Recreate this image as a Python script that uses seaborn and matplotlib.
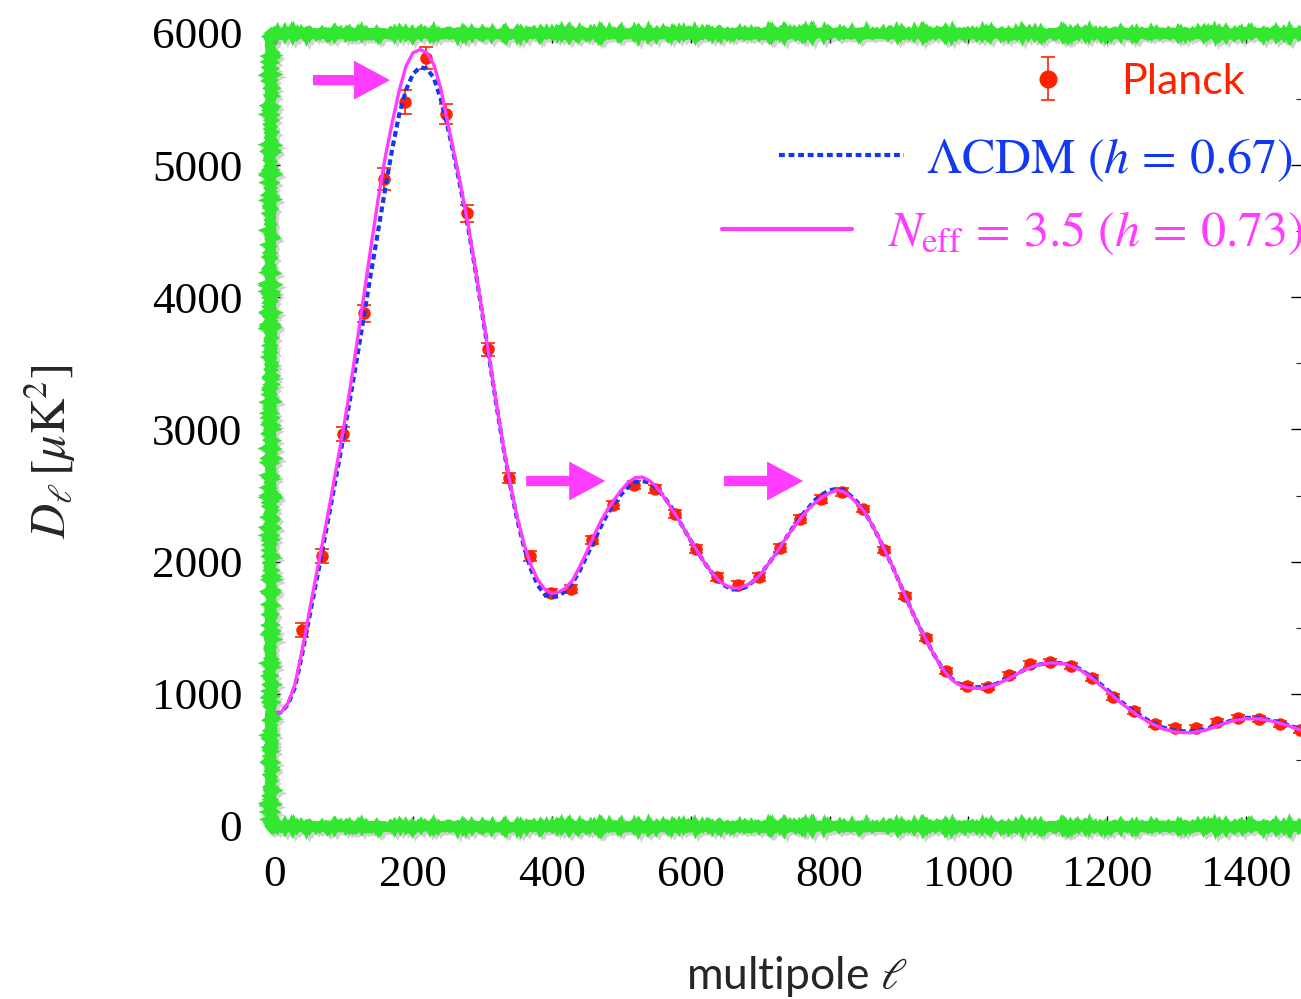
import numpy as np
import pandas as pd
import seaborn as sns
import matplotlib.pyplot as plt
import matplotlib.patheffects as pe
from matplotlib.ticker import MultipleLocator

# Planck binned data points
planck_ell = [40, 69, 99, 130, 158, 189, 219, 248, 278, 308, 338, 369, 399, 428, 458, 488,
              518, 549, 578, 608, 638, 668, 699, 729, 758, 788, 818, 848, 879, 909, 939, 968,
              998, 1028, 1059, 1089, 1118, 1148, 1178, 1208, 1239, 1269, 1298, 1328, 1358,
              1388, 1418, 1449, 1478]
planck_dl = [1483, 2042, 2965, 3880, 4894, 5477, 5809, 5386, 4637, 3608, 2632, 2042, 1762,
             1793, 2163, 2428, 2579, 2549, 2360, 2095, 1883, 1823, 1883, 2103, 2322, 2474,
             2526, 2398, 2088, 1740, 1422, 1172, 1059, 1051, 1142, 1225, 1241, 1210, 1120,
             976, 870, 772, 741, 741, 787, 817, 810, 772, 726]
planck_err = [55, 50, 55, 65, 85, 90, 85, 75, 65, 50, 40, 35, 30, 30, 30, 30, 30, 30, 28, 28,
              28, 28, 28, 28, 28, 28, 28, 26, 26, 26, 24, 24, 22, 22, 22, 22, 22, 22, 22, 22,
              22, 22, 22, 22, 22, 22, 22, 22, 22]

# model curves
model_ell = [2] + list(range(10, 1001, 10)) + list(range(1020, 1481, 20))
lcdm_dl = [850, 860, 920, 1050, 1290, 1560, 1830, 2100, 2380, 2660, 2950, 3250, 3560, 3880,
           4200, 4510, 4820, 5120, 5380, 5570, 5690, 5740, 5730, 5660, 5500, 5290, 5050, 4790,
           4510, 4200, 3870, 3530, 3190, 2870, 2580, 2320, 2110, 1940, 1820, 1750, 1730, 1740,
           1780, 1840, 1930, 2040, 2150, 2260, 2360, 2440, 2510, 2570, 2600, 2610, 2600, 2560,
           2500, 2430, 2340, 2250, 2160, 2075, 1990, 1920, 1860, 1815, 1790, 1790, 1810, 1850,
           1900, 1970, 2040, 2120, 2200, 2280, 2350, 2410, 2470, 2510, 2540, 2550, 2540, 2500,
           2450, 2380, 2290, 2190, 2080, 1970, 1850, 1730, 1610, 1500, 1400, 1300, 1215, 1145,
           1095, 1065, 1050,
           1050, 1075, 1125, 1180, 1220, 1238, 1228, 1190, 1118, 1030, 940, 860, 795, 745, 718,
           715, 730, 765, 800, 818, 815, 795, 765, 728]
neff_dl = [850, 860, 930, 1070, 1320, 1600, 1880, 2150, 2430, 2720, 3010, 3330, 3680, 4040,
           4400, 4750, 5060, 5320, 5560, 5750, 5850, 5875, 5850, 5760, 5580, 5320, 5070, 4810,
           4530, 4210, 3880, 3540, 3200, 2880, 2590, 2340, 2130, 1970, 1860, 1790, 1760, 1770,
           1800, 1860, 1960, 2070, 2190, 2300, 2390, 2470, 2540, 2600, 2635, 2640, 2615, 2570,
           2500, 2420, 2340, 2250, 2160, 2075, 1990, 1920, 1860, 1820, 1800, 1800, 1820, 1850,
           1900, 1970, 2040, 2120, 2200, 2270, 2340, 2400, 2450, 2490, 2520, 2540, 2530, 2490,
           2440, 2380, 2290, 2190, 2080, 1970, 1850, 1730, 1610, 1500, 1400, 1300, 1210, 1140,
           1090, 1060, 1045,
           1040, 1070, 1120, 1180, 1220, 1235, 1225, 1185, 1110, 1020, 930, 850, 785, 735, 708,
           705, 722, 760, 795, 812, 810, 790, 760, 722]

# peak-shift arrows: (start ell, end ell, height)
arrow_start = [56, 363, 648]
arrow_end = [167, 477, 762]
arrow_y = [5643, 2610, 2610]

RED = "#ff2200"
BLUE = "#1238f0"
MAGENTA = "#ff3cff"
GREEN = "#33e62f"

sns.set_style("ticks")
plt.rcParams["font.family"] = ["Liberation Serif", "DejaVu Serif"]
plt.rcParams["mathtext.fontset"] = "stix"

fig = plt.figure(figsize=(13.01, 9.99), dpi=100)
ax = fig.add_axes([0.2075, 0.1732, 0.7925, 0.7938])

df = pd.DataFrame({"ell": model_ell, "lcdm": lcdm_dl, "neff": neff_dl})

planck = ax.errorbar(planck_ell, planck_dl, yerr=planck_err, fmt="o", color=RED, ms=8,
                     elinewidth=1.2, capsize=5, capthick=1.2, zorder=2)
sns.lineplot(data=df, x="ell", y="lcdm", ax=ax, color=BLUE, lw=3,
             linestyle=(0, (1.4, 0.9)), zorder=3)
sns.lineplot(data=df, x="ell", y="neff", ax=ax, color=MAGENTA, lw=2.4, zorder=4)

for x0, x1, y in zip(arrow_start, arrow_end, arrow_y):
    ax.annotate("", xy=(x1, y), xytext=(x0, y),
                arrowprops=dict(arrowstyle="simple,head_length=1.3,head_width=1.4,tail_width=0.37",
                                color=MAGENTA, lw=0, shrinkA=0, shrinkB=0, mutation_scale=20))

ax.set_xlim(-6, 1479)
ax.set_ylim(0, 6000)
ax.xaxis.set_major_locator(MultipleLocator(200))
ax.yaxis.set_major_locator(MultipleLocator(1000))
ax.yaxis.set_minor_locator(MultipleLocator(500))
ax.tick_params(which="major", direction="in", length=7, width=1, top=True, right=True,
               labelsize=32.5, colors="black")
ax.tick_params(axis="x", which="major", pad=21)
ax.tick_params(axis="y", which="major", pad=20)
ax.tick_params(which="minor", direction="in", length=3.5, width=0.8, top=True, right=True)

# hand-drawn looking green frame
for side in ["left", "top", "bottom"]:
    sp = ax.spines[side]
    sp.set_color(GREEN)
    sp.set_linewidth(6.5)
    sp.set_sketch_params(scale=1.3, length=1.5, randomness=3)
    sp.set_path_effects([pe.SimpleLineShadow(offset=(2, -2), shadow_color="gray", alpha=0.35),
                         pe.Normal()])
    sp.set_zorder(5)
ax.spines["right"].set_visible(False)

ax.set_ylabel(r"$D_\ell\,[\mu\mathrm{K}^2]$", fontsize=35, va="center")
ax.yaxis.set_label_coords(-0.213, 0.472)
ax.set_xlabel(r"multipole $\ell$", fontsize=32, va="center",
              family=["Lato", "DejaVu Sans"])
ax.xaxis.set_label_coords(0.511, -0.19)

# legend, one entry per line, right aligned
leg1 = ax.legend([planck], ["Planck"], loc="center right", frameon=False,
                 bbox_to_anchor=(0.957, 0.918), bbox_transform=fig.transFigure,
                 borderpad=0, borderaxespad=0, handlelength=1.0, handletextpad=1.2,
                 markerscale=1.5, prop={"family": ["Lato", "DejaVu Sans"], "size": 31})
leg1.get_texts()[0].set_color(RED)
ax.add_artist(leg1)

h_lcdm, = ax.plot([], [], color=BLUE, lw=3, linestyle=(0, (1.4, 0.9)))
leg2 = ax.legend([h_lcdm], [r"$\Lambda\mathrm{CDM}\ (h\,=\,0.67)$"], loc="center right",
                 frameon=False, bbox_to_anchor=(0.994, 0.840), bbox_transform=fig.transFigure,
                 borderpad=0, borderaxespad=0, handlelength=2.5, handletextpad=0.45,
                 prop={"size": 36})
leg2.get_texts()[0].set_color(BLUE)
ax.add_artist(leg2)

h_neff, = ax.plot([], [], color=MAGENTA, lw=3)
leg3 = ax.legend([h_neff], [r"$N_\mathrm{eff}\,=\,3.5\ (h\,=\,0.73)$"], loc="center right",
                 frameon=False, bbox_to_anchor=(1.002, 0.766), bbox_transform=fig.transFigure,
                 borderpad=0, borderaxespad=0, handlelength=2.6, handletextpad=0.7,
                 prop={"size": 36})
leg3.get_texts()[0].set_color(MAGENTA)

fig.savefig("out.png", dpi=100)
